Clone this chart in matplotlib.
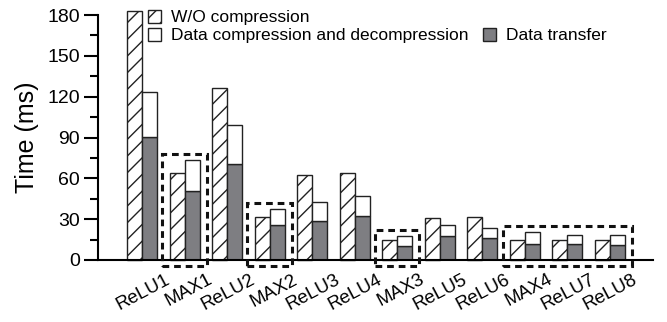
import matplotlib
matplotlib.use('Agg')
import matplotlib.pyplot as plt
from matplotlib.patches import Rectangle
import numpy as np

plt.rcParams['font.family'] = ['Liberation Sans', 'DejaVu Sans']
plt.rcParams['hatch.linewidth'] = 1.0

layers = ['ReLU1', 'MAX1', 'ReLU2', 'MAX2', 'ReLU3', 'ReLU4',
          'MAX3', 'ReLU5', 'ReLU6', 'MAX4', 'ReLU7', 'ReLU8']
wo_compression = [183, 64, 126.5, 31.5, 62.5, 64, 14.7, 30.5, 31.8, 14.7, 14.7, 14.7]
data_transfer = [90.5, 51, 70.5, 26, 29, 32, 10.5, 18, 16.5, 12, 11.5, 11.3]
compression = [33.2, 22.5, 28.7, 11.7, 13.8, 15.3, 6.9, 7.5, 7.2, 8.3, 7.1, 6.8]
# groups of layers marked with a dashed box (first index, last index)
boxed = [(1, 1), (3, 3), (6, 6), (9, 11)]

gray = '#7e7e82'
edge = '#222222'

fig = plt.figure(figsize=(6.67, 3.22), dpi=100)
ax = fig.add_axes([98 / 667, 62 / 322, 555 / 667, 245 / 322])

x = np.arange(len(layers))
w = 0.353

ax.bar(x - w / 2, wo_compression, w, color='white', edgecolor=edge,
       hatch='//', linewidth=1, clip_on=False, label='W/O compression')
ax.bar(x + w / 2, data_transfer, w, color=gray, edgecolor=edge,
       linewidth=1, label='Data transfer')
ax.bar(x + w / 2, compression, w, bottom=data_transfer, color='white',
       edgecolor=edge, linewidth=1,
       label='Data compression and decompression')

top = np.maximum(wo_compression, np.add(data_transfer, compression))
for a, b in boxed:
    h = top[a:b + 1].max() + 4.5
    ax.add_patch(Rectangle((a - 0.52, -4.5), b - a + 1.04, h + 4.5,
                           fill=False, edgecolor='#111111', linewidth=2.2,
                           linestyle=(0, (2.2, 1.6)), clip_on=False, zorder=5))

ax.set_xlim(-1.035, 12.02)
ax.set_ylim(0, 180)
ax.set_yticks(np.arange(0, 181, 30))
ax.set_yticks(np.arange(15, 180, 30), minor=True)
ax.tick_params(axis='y', which='major', direction='out', length=10,
               width=1.5, labelsize=14, pad=3)
ax.tick_params(axis='y', which='minor', direction='out', length=6, width=1.5)
ax.set_xticks(x + 0.72)
ax.set_xticklabels(layers, rotation=28, ha='right', fontsize=13.5)
ax.tick_params(axis='x', length=0, pad=8)

for s in ['top', 'right']:
    ax.spines[s].set_visible(False)
ax.spines['left'].set_linewidth(1.5)
ax.spines['bottom'].set_linewidth(1.5)

ax.set_ylabel('Time (ms)', fontsize=18, labelpad=6)

h, l = ax.get_legend_handles_labels()
blank = Rectangle((0, 0), 1, 1, fill=False, edgecolor='none', visible=False)
handles = [h[0], h[2], blank, h[1]]
labels = [l[0], l[2], '', l[1]]
fig.legend(handles, labels, ncol=2, loc='upper left',
           bbox_to_anchor=(148 / 667, 1 - 10 / 322), frameon=False,
           fontsize=12.5, handlelength=0.75, handleheight=0.75,
           handletextpad=0.6, labelspacing=0.15, columnspacing=0.8,
           borderpad=0, borderaxespad=0)

fig.savefig('out.png', dpi=100)
